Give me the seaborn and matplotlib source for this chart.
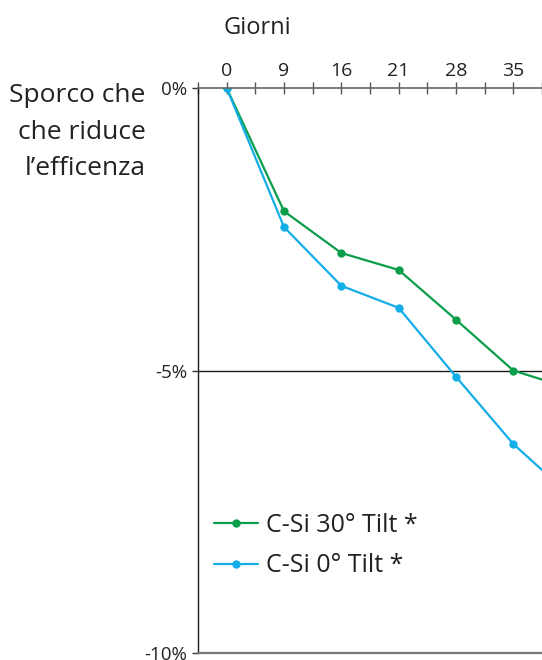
import matplotlib
matplotlib.use("Agg")
import matplotlib.pyplot as plt
import pandas as pd
import seaborn as sns

# Data (last day is just past the right edge)
days = [0, 9, 16, 21, 28, 35, 42]
tilt30 = [0.0, -2.18, -2.92, -3.22, -4.10, -5.00, -5.32]
tilt0 = [0.0, -2.46, -3.50, -3.89, -5.11, -6.30, -7.22]
series_names = ["C-Si 30° Tilt *", "C-Si 0° Tilt *"]
tick_days = ["0", "9", "16", "21", "28", "35"]
y_ticks = [0, -5, -10]
y_labels = ["0%", "-5%", "-10%"]

green = "#0a9e4a"
blue = "#13aee8"

df = pd.DataFrame({
    "pos": list(range(len(days))) * 2,
    "value": tilt30 + tilt0,
    "serie": [series_names[0]] * len(days) + [series_names[1]] * len(days),
})

sns.set_style("white")
plt.rcParams["font.family"] = ["Open Sans", "DejaVu Sans"]

fig = plt.figure(figsize=(5.42, 6.6), dpi=100)
ax = fig.add_axes([0.3653, 0.0106, 0.6347, 0.856])

sns.lineplot(data=df, x="pos", y="value", hue="serie",
             palette=[green, blue], marker="o", markersize=6,
             markeredgewidth=0, linewidth=1.6, ax=ax)

ax.set_xlim(-0.5, 5.5)
ax.set_ylim(-10, 0)
ax.axhline(-5, color="#1a1a1a", linewidth=1.0, zorder=1)

# x axis on top, with minor ticks between days
ax.xaxis.tick_top()
ax.set_xticks(range(len(tick_days)))
ax.set_xticklabels(tick_days, fontsize=14, color="#222222")
ax.set_xticks([i + 0.5 for i in range(-1, len(tick_days))], minor=True)
ax.tick_params(axis="x", which="both", direction="inout", length=9,
               width=1.0, color="#555555", pad=1)
ax.set_xlabel("")

ax.set_yticks(y_ticks)
ax.set_yticklabels(y_labels, fontsize=13.5, color="#222222")
ax.tick_params(axis="y", direction="out", length=4, width=1.0,
               color="#333333", pad=4, left=True)
ax.set_ylabel("")

ax.spines["right"].set_visible(False)
ax.spines["top"].set_color("#666666")
ax.spines["top"].set_linewidth(1.2)
ax.spines["bottom"].set_color("#777777")
ax.spines["bottom"].set_linewidth(1.6)
ax.spines["left"].set_color("#1a1a1a")
ax.spines["left"].set_linewidth(1.0)

leg = ax.legend(loc="upper left", bbox_to_anchor=(214 / 542, 1 - 513 / 660),
                bbox_transform=fig.transFigure, frameon=False,
                fontsize=18, handlelength=1.75, handletextpad=0.35,
                labelspacing=0.62, borderaxespad=0, borderpad=0)
for t in leg.get_texts():
    t.set_color("#222222")

fig.text(0.474, 0.958, "Giorni", fontsize=17, ha="center", va="center",
         color="#222222")
fig.text(0.269, 0.874, "Sporco che\nche riduce\nl’efficenza", fontsize=19,
         ha="right", va="top", linespacing=1.6, color="#222222")

fig.savefig("out.png", dpi=100)
